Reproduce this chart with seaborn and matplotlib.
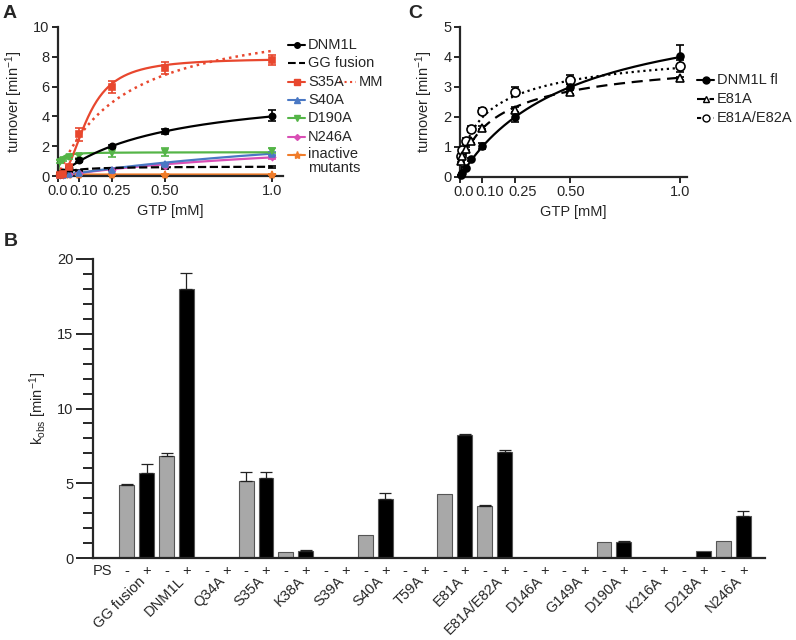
import numpy as np
import pandas as pd
import matplotlib.pyplot as plt
import matplotlib.transforms as mtransforms
from matplotlib.lines import Line2D
import seaborn as sns

sns.set_style('ticks')
plt.rcParams['font.family'] = ['Liberation Sans', 'DejaVu Sans']
plt.rcParams['mathtext.fontset'] = 'custom'
plt.rcParams['mathtext.rm'] = 'Liberation Sans'
plt.rcParams['mathtext.it'] = 'Liberation Sans:italic'
plt.rcParams['font.size'] = 10.5
plt.rcParams['axes.linewidth'] = 1.6

FS = 10.5

# ---- panel A : turnover vs GTP ----
gtp_a = [0.01, 0.025, 0.05, 0.1, 0.25, 0.5, 1.0]
dnm1l_a = [0.12, 0.25, 0.55, 1.05, 2.0, 3.0, 4.05]
dnm1l_a_err = [0.03, 0.05, 0.05, 0.1, 0.1, 0.15, 0.35]
gg_a = [0.2, 0.3, 0.32, 0.38, 0.45, 0.55, 0.62]
gg_a_err = [0.03, 0.03, 0.04, 0.05, 0.05, 0.08, 0.08]
s35a_a = [0.05, 0.15, 0.6, 2.8, 6.0, 7.25, 7.8]
s35a_a_err = [0.03, 0.05, 0.1, 0.45, 0.4, 0.4, 0.35]
s40a_a = [0.05, 0.1, 0.15, 0.2, 0.4, 0.78, 1.5]
s40a_a_err = [0.02, 0.02, 0.03, 0.03, 0.05, 0.05, 0.08]
d190a_a = [0.95, 1.1, 1.25, 1.35, 1.55, 1.6, 1.7]
d190a_a_err = [0.1, 0.12, 0.1, 0.15, 0.25, 0.25, 0.15]
n246a_a = [0.05, 0.08, 0.12, 0.18, 0.38, 0.7, 1.25]
n246a_a_err = [0.02, 0.02, 0.03, 0.03, 0.05, 0.05, 0.08]
inactive_a = [0.1, 0.1, 0.1, 0.1, 0.1, 0.1, 0.1]
inactive_a_err = [0.02, 0.02, 0.02, 0.02, 0.02, 0.02, 0.02]

# fit parameters (Vmax, K, hill n)
fit_dnm1l = (6.0, 0.5, 1.0)
fit_gg = (0.65, 0.05, 1.0)
fit_s35a = (7.9, 0.14, 2.2)
fit_s35a_mm = (11.0, 0.31, 1.0)
fit_s40a = (4.5, 2.0, 1.0)
fit_d190a = (1.6, 0.006, 1.0)
fit_n246a = (3.0, 1.4, 1.0)
fit_inactive = (0.1, 0.001, 1.0)

# ---- panel C ----
gtp_c = [0.005, 0.01, 0.025, 0.05, 0.1, 0.25, 0.5, 1.0]
dnm1l_c = [0.06, 0.12, 0.3, 0.6, 1.05, 2.0, 3.0, 4.05]
dnm1l_c_err = [0.02, 0.03, 0.05, 0.05, 0.1, 0.15, 0.1, 0.35]
e81a_c = [0.55, 0.7, 0.95, 1.2, 1.65, 2.25, 2.85, 3.3]
e81a_c_err = [0.05, 0.05, 0.05, 0.08, 0.05, 0.08, 0.08, 0.05]
e82a_c = [0.7, 0.9, 1.2, 1.6, 2.2, 2.85, 3.25, 3.7]
e82a_c_err = [0.05, 0.08, 0.1, 0.1, 0.1, 0.15, 0.15, 0.2]
fit_c_dnm1l = (6.0, 0.5, 1.0)
fit_c_e81a = (4.3, 0.2, 0.75)
fit_c_e82a = (4.6, 0.15, 0.7)

# ---- panel B : kobs bars ----
groups = ['GG fusion', 'DNM1L', 'Q34A', 'S35A', 'K38A', 'S39A', 'S40A', 'T59A',
          'E81A', 'E81A/E82A', 'D146A', 'G149A', 'D190A', 'K216A', 'D218A', 'N246A']
kobs_minus = [4.85, 6.8, 0, 5.15, 0.38, 0, 1.52, 0, 4.25, 3.5, 0, 0, 1.05, 0, 0, 1.13]
err_minus = [0.12, 0.2, 0, 0.6, 0, 0, 0, 0, 0, 0.03, 0, 0, 0, 0, 0, 0]
kobs_plus = [5.7, 18.0, 0, 5.35, 0.5, 0, 3.96, 0, 8.2, 7.1, 0, 0, 1.1, 0, 0.5, 2.78]
err_plus = [0.6, 1.05, 0, 0.38, 0.05, 0, 0.38, 0, 0.1, 0.1, 0, 0, 0.03, 0, 0, 0.38]

RED = '#e8472e'
BLUE = '#4a78c4'
GREEN = '#55b548'
MAGENTA = '#d94fb5'
ORANGE = '#f07c2a'


def hill(x, p):
    vmax, k, n = p
    return vmax * x ** n / (k ** n + x ** n)


xfit = np.linspace(0, 1, 300)

fig = plt.figure(figsize=(7.96, 6.4), dpi=100)
W, H = 796, 640


def px_axes(x0, y0, x1, y1):
    return fig.add_axes([x0 / W, 1 - y1 / H, (x1 - x0) / W, (y1 - y0) / H])


def style_ax(ax):
    sns.despine(ax=ax)
    ax.tick_params(width=1.4, length=4, labelsize=FS, pad=2)


def legend_row(x0, y, color, ls, marker, label, mfc=None, ms=5, seg=17):
    fig.add_artist(Line2D([x0 / W, (x0 + seg) / W], [1 - y / H, 1 - y / H],
                          transform=fig.transFigure, color=color, ls=ls, lw=1.5))
    if marker:
        fig.add_artist(Line2D([(x0 + seg / 2) / W], [1 - y / H], transform=fig.transFigure,
                              color=color, marker=marker, ms=ms, ls='none',
                              mfc=mfc if mfc else color, mec=color))
    if label:
        fig.text((x0 + seg + 3) / W, 1 - y / H, label, va='center', ha='left', fontsize=FS)


def draw_series(ax, x, y, err, fit, color, ls, marker, ms=5, mfc=None):
    sns.lineplot(x=xfit, y=hill(xfit, fit), ax=ax, color=color, linestyle=ls, lw=1.6)
    ax.errorbar(x, y, yerr=err, fmt='none', ecolor=color, elinewidth=1.2,
                capsize=3, capthick=1.2, clip_on=False, zorder=3)
    if ms > 0:
        ax.plot(x, y, ls='none', marker=marker, ms=ms, color=color,
                mfc=mfc if mfc else color, mec=color, mew=1.2, clip_on=False, zorder=4)


def shift_labels(ax, shifts):
    for lab, dx in zip(ax.get_xticklabels(), shifts):
        lab.set_transform(lab.get_transform() +
                          mtransforms.ScaledTranslation(dx / 100, 0, fig.dpi_scale_trans))


# ===== A =====
axA = px_axes(58, 27, 283, 176)
draw_series(axA, gtp_a, inactive_a, inactive_a_err, fit_inactive, ORANGE, '-', '*', ms=6)
draw_series(axA, gtp_a, n246a_a, n246a_a_err, fit_n246a, MAGENTA, '-', 'D', ms=3)
draw_series(axA, gtp_a, s40a_a, s40a_a_err, fit_s40a, BLUE, '-', '^', ms=4)
draw_series(axA, gtp_a, d190a_a, d190a_a_err, fit_d190a, GREEN, '-', 'v', ms=5)
draw_series(axA, gtp_a, gg_a, gg_a_err, fit_gg, 'black', '--', 'o', ms=0)
draw_series(axA, gtp_a, dnm1l_a, dnm1l_a_err, fit_dnm1l, 'black', '-', 'o', ms=4.5)
sns.lineplot(x=xfit, y=hill(xfit, fit_s35a_mm), ax=axA, color=RED, linestyle=':', lw=1.8)
draw_series(axA, gtp_a, s35a_a, s35a_a_err, fit_s35a, RED, '-', 's', ms=5)
axA.set_xlim(0, 1.05)
axA.set_ylim(0, 10)
axA.set_yticks([0, 2, 4, 6, 8, 10])
axA.set_xticks([0, 0.1, 0.25, 0.5, 1.0])
axA.set_xticklabels(['0.0', '0.10', '0.25', '0.50', '1.0'])
axA.set_xlabel('GTP [mM]', fontsize=FS, labelpad=4)
axA.set_ylabel('turnover [min$^{-1}$]', fontsize=FS, labelpad=6)
style_ax(axA)
shift_labels(axA, [0, 4, 5, 0, 0])

legend_row(288, 45, 'black', '-', 'o', 'DNM1L', ms=4)
legend_row(288, 63, 'black', '--', None, 'GG fusion')
legend_row(288, 82, RED, '-', 's', 'S35A', ms=4)
legend_row(339, 82, RED, ':', None, 'MM')
legend_row(288, 100, BLUE, '-', '^', 'S40A', ms=4)
legend_row(288, 118, GREEN, '-', 'v', 'D190A', ms=4)
legend_row(288, 137, MAGENTA, '-', 'D', 'N246A', ms=3)
legend_row(288, 155, ORANGE, '-', '*', None, ms=6)
fig.text(308 / W, 1 - 161 / H, 'inactive\nmutants', va='center', ha='left', fontsize=FS,
         linespacing=1.0)

# ===== C =====
axC = px_axes(460, 27, 687, 177)
draw_series(axC, gtp_c, e82a_c, e82a_c_err, fit_c_e82a, 'black', ':', 'o', ms=6.5, mfc='white')
draw_series(axC, gtp_c, e81a_c, e81a_c_err, fit_c_e81a, 'black', (0, (5, 3)), '^', ms=5.5, mfc='white')
draw_series(axC, gtp_c, dnm1l_c, dnm1l_c_err, fit_c_dnm1l, 'black', '-', 'o', ms=5)
axC.set_xlim(0, 1.03)
axC.set_ylim(0, 5)
axC.set_yticks([0, 1, 2, 3, 4, 5])
axC.set_xticks([0, 0.1, 0.25, 0.5, 1.0])
axC.set_xticklabels(['0.0', '0.10', '0.25', '0.50', '1.0'])
axC.set_xlabel('GTP [mM]', fontsize=FS, labelpad=4)
axC.set_ylabel('turnover [min$^{-1}$]', fontsize=FS, labelpad=6)
style_ax(axC)
shift_labels(axC, [4, 8, 8, 0, 0])

legend_row(697, 80, 'black', '-', 'o', 'DNM1L fl', ms=5)
legend_row(697, 99, 'black', (0, (4, 2)), '^', 'E81A', mfc='white', ms=5)
legend_row(697, 118, 'black', (0, (2, 2)), 'o', 'E81A/E82A', mfc='white', ms=5)

# ===== B =====
axB = px_axes(93, 259, 765, 558)
kobs = []
errs = []
ps = []
for m, em, p, ep in zip(kobs_minus, err_minus, kobs_plus, err_plus):
    kobs += [m, p]
    errs += [em, ep]
    ps += ['-', '+']
df_b = pd.DataFrame({'pos': np.arange(len(kobs)), 'kobs': kobs, 'err': errs, 'PS': ps})
sns.barplot(data=df_b, x='pos', y='kobs', hue='PS', palette={'-': '#a8a8a8', '+': 'black'},
            dodge=False, width=0.75, edgecolor='#555555', linewidth=0.8, legend=False,
            ax=axB, zorder=2)
has_err = df_b[df_b['err'] > 0]
axB.errorbar(has_err['pos'], has_err['kobs'], yerr=[np.zeros(len(has_err)), has_err['err']],
             fmt='none', ecolor='#222222', elinewidth=0.9, capsize=4.5, capthick=0.9, zorder=3)
axB.set_xlim(-1.7, 32.1)
axB.set_ylim(0, 20)
axB.set_yticks([0, 5, 10, 15, 20])
axB.set_yticks(np.arange(0, 21, 1), minor=True)
axB.set_xticks(df_b['pos'])
axB.set_xticklabels(df_b['PS'], fontsize=FS)
axB.set_xlabel('')
axB.set_ylabel(r'k$_{\mathrm{obs}}$ [min$^{-1}$]', fontsize=FS, labelpad=6)
sns.despine(ax=axB)
axB.tick_params(axis='y', which='major', length=12, width=1.4, labelsize=FS, pad=2)
axB.tick_params(axis='y', which='minor', length=7, width=1.4)
axB.tick_params(axis='x', length=0, pad=4)
axB.annotate('PS', xy=(-1.2, 0), xycoords=axB.get_xaxis_transform(), xytext=(0, -4),
             textcoords='offset points', ha='center', va='top', fontsize=FS)
for i, name in enumerate(groups):
    axB.annotate(name, xy=(2 * i + 0.8, 0), xycoords=axB.get_xaxis_transform(),
                 xytext=(0, -15), textcoords='offset points', rotation=45,
                 ha='right', va='center', rotation_mode='anchor', fontsize=FS)

# panel letters
fig.text(3 / W, 1 - 14 / H, 'A', fontsize=14, fontweight='bold', va='center', ha='left')
fig.text(408 / W, 1 - 14 / H, 'C', fontsize=14, fontweight='bold', va='center', ha='left')
fig.text(4 / W, 1 - 241 / H, 'B', fontsize=14, fontweight='bold', va='center', ha='left')

fig.savefig('out.png', dpi=100)
